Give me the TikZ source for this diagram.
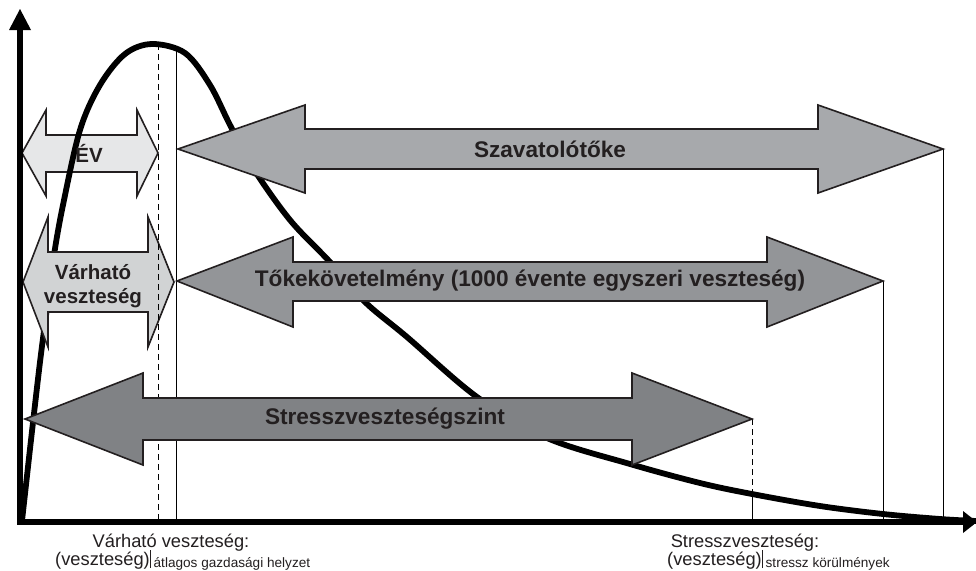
\documentclass[tikz,border=0pt]{standalone}
\usepackage{fontspec}
\setmainfont{Liberation Sans}
\definecolor{txt}{HTML}{231F20}
\definecolor{evfill}{HTML}{E6E7E8}
\definecolor{vvfill}{HTML}{D1D3D4}
\definecolor{szfill}{HTML}{A7A9AC}
\definecolor{tkfill}{HTML}{939598}
\definecolor{stfill}{HTML}{808285}
\tikzset{
  bigarrow/.style={draw=txt, line width=1.6pt, line join=miter},
  vline/.style={draw=black, line width=1pt},
  dline/.style={draw=black, line width=1pt, dash pattern=on 6pt off 4pt},
  lbl/.style={font=\fontsize{22.6}{24}\selectfont\bfseries, text=txt, inner sep=0pt},
  slbl/.style={font=\fontsize{20.5}{24}\selectfont\bfseries, text=txt, inner sep=0pt, align=center},
  axlbl/.style={font=\fontsize{18.3}{20}\selectfont, text=txt, inner sep=0pt},
}
\newcommand\subtxt[1]{\rule[-3pt]{0.9pt}{18pt}\hspace{3pt}\raisebox{-2.5pt}{\fontsize{13.6}{15}\selectfont #1}}
\begin{document}
\begin{tikzpicture}[x=1pt,y=-1pt]
\useasboundingbox (0,0) rectangle (976,570);
\fill[white] (0,0) rectangle (976,570);

% reference lines
\coordinate (d1t) at (158,44);  \coordinate (d1b) at (158,522);
\coordinate (s1t) at (176,50);  \coordinate (s1b) at (176,522);
\coordinate (s2t) at (883,281); \coordinate (s2b) at (883,522);
\coordinate (s3t) at (943,149); \coordinate (s3b) at (943,522);
\coordinate (s4t) at (752,419); \coordinate (s4m) at (752,495); \coordinate (s4b) at (752,522);
\draw[vline] (s1t) -- (s1b);
\draw[vline] (s2t) -- (s2b);
\draw[vline] (s3t) -- (s3b);
\draw[dline] (s4t) -- (s4m);
\draw[vline] (s4m) -- (s4b);

% EV arrow
\draw[bigarrow, fill=evfill] (22,153) -- (46,110) -- (46,135) -- (137,135) -- (137,110) -- (158,153) -- (137,196) -- (137,172) -- (46,172) -- (46,196) -- cycle;

% distribution curve
\draw[line width=5.8pt, black, line cap=round, line join=round] plot[smooth, tension=0.55] coordinates {
 (22,521) (31,440) (40,362) (47,308) (54,255) (63,205) (80,130) (100,85) (125,54) (152,44)
 (185,53) (210,85) (230,125) (253,168) (290,220) (330,262) (365,302) (407,337) (477,397)
 (547,438) (630,464) (700,483) (752,494) (820,506) (883,514) (940,519) (976,521)};

% Varhato veszteseg arrow
\draw[bigarrow, fill=vvfill] (23,282) -- (48,217) -- (48,252) -- (148,252) -- (148,217) -- (174,282) -- (148,347) -- (148,312) -- (48,312) -- (48,347) -- cycle;

\draw[dline] (d1t) -- (d1b);

% Szavatolotoke arrow
\draw[bigarrow, fill=szfill] (178,149) -- (305,105) -- (305,129) -- (818,129) -- (818,105) -- (943,149) -- (818,193) -- (818,169) -- (305,169) -- (305,193) -- cycle;

% Tokekovetelmeny arrow
\draw[bigarrow, fill=tkfill] (177,281) -- (293,237) -- (293,262) -- (767,262) -- (767,237) -- (883,281) -- (767,327) -- (767,301) -- (293,301) -- (293,327) -- cycle;

% Stressz arrow
\draw[bigarrow, fill=stfill] (25,419) -- (143,373) -- (143,398) -- (632,398) -- (632,373) -- (752,419) -- (632,465) -- (632,440) -- (143,440) -- (143,465) -- cycle;

% axes
\draw[line width=5.5pt, black] (20,524) -- (20,28);
\fill[black] (20,9) -- (31,30) -- (9,30) -- cycle;
\draw[line width=5.5pt, black] (17.25,522) -- (964,522);
\fill[black] (977,522) -- (963,511) -- (963,533) -- cycle;

% labels
\node[lbl] (szav) at (550,149) {Szavatolótőke};
\node[lbl] (toke) at (530,281) {Tőkekövetelmény (1000 évente egyszeri veszteség)};
\node[lbl] (stressz) at (385,419) {Stresszveszteségszint};
\node[slbl] (ev) at (89,153) {ÉV};
\node[slbl, anchor=base] (vv1) at (93,279) {Várható};
\node[slbl, anchor=base] (vv2) at (93,303) {veszteség};

\node[axlbl, anchor=base] (bl1) at (171,547) {Várható veszteség:};
\node[axlbl, anchor=base west] (bl2) at (55,565) {(veszteség)\subtxt{átlagos gazdasági helyzet}};
\node[axlbl, anchor=base] (br1) at (745,547) {Stresszveszteség:};
\node[axlbl, anchor=base west] (br2) at (667,565) {(veszteség)\subtxt{stressz körülmények}};
\end{tikzpicture}
\end{document}
